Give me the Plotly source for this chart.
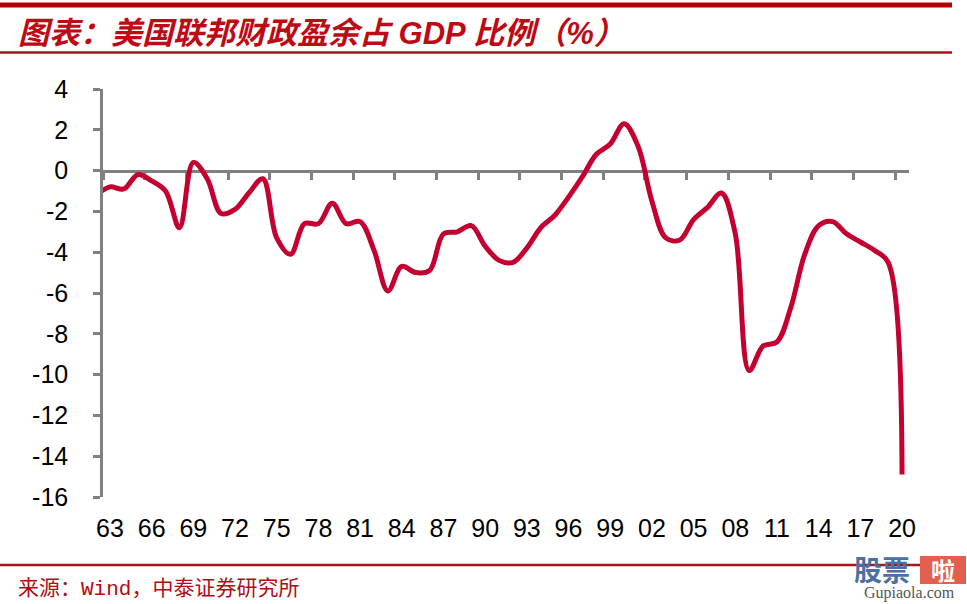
import plotly.graph_objects as go

# ---- data (US federal surplus/deficit as % of GDP) ----
years = list(range(1962, 2021))
values = [-1.2,
          -0.8, -0.9, -0.2, -0.5, -1.0, -2.8, 0.4, -0.4, -2.1, -1.9,
          -1.1, -0.4, -3.3, -4.1, -2.6, -2.6, -1.6, -2.6, -2.5, -3.9,
          -5.9, -4.7, -5.0, -4.9, -3.1, -3.0, -2.7, -3.7, -4.4, -4.5,
          -3.8, -2.8, -2.2, -1.3, -0.3, 0.8, 1.3, 2.3, 1.2, -1.5,
          -3.3, -3.4, -2.4, -1.8, -1.1, -3.1, -9.8, -8.6, -8.4, -6.7,
          -4.1, -2.7, -2.5, -3.1, -3.5, -3.9, -4.5, -14.9]
label_years = list(range(1963, 2021, 3))
label_text = [str(y)[-2:] for y in label_years]
y_ticks = [4, 2, 0, -2, -4, -6, -8, -10, -12, -14, -16]
y_text = [str(v) for v in y_ticks]

title_text = "图表：美国联邦财政盈余占 GDP 比例（%）"
source_text = "来源：Wind，中泰证券研究所"

W, H = 967, 604
L, R, T, B = 103, 58, 89, 107
PW, PH = W - L - R, H - T - B


def px(xp):
    return (xp - L) / PW


def py(yp):
    return (H - B - yp) / PH


GRAY = "#808080"
RED_LINE = "#C3002F"
DARK_RED = "#B40A12"

fig = go.Figure()
fig.add_trace(go.Scatter(
    x=years, y=values, mode="lines",
    line=dict(color=RED_LINE, width=5, shape="spline", smoothing=1.0),
    hoverinfo="skip", showlegend=False))
fig.add_trace(go.Scatter(
    x=years, y=values, mode="lines", xaxis="x2",
    line=dict(color="rgba(0,0,0,0)", width=0),
    hoverinfo="skip", showlegend=False))

tickfont = dict(family="Liberation Sans, Arial, sans-serif", size=25, color="#000000")

fig.update_layout(
    width=W, height=H,
    margin=dict(l=L, r=R, t=T, b=B, pad=0),
    paper_bgcolor="white", plot_bgcolor="white",
    showlegend=False,
    xaxis=dict(range=[1962.5, 2020.5], tickmode="array", tickvals=label_years,
               ticktext=label_text, showline=False, showgrid=False, zeroline=False,
               ticks="", tickfont=tickfont, ticklabelstandoff=14, fixedrange=True),
    xaxis2=dict(range=[1962.5, 2020.5], overlaying="x", anchor="free", position=0.8,
                tickmode="linear", tick0=1962.5, dtick=3, ticks="outside", ticklen=8,
                tickwidth=2.5, tickcolor=GRAY, showline=True, linecolor=GRAY,
                linewidth=2.5, showticklabels=False, showgrid=False, zeroline=False,
                layer="below traces"),
    yaxis=dict(range=[-16, 4], tickmode="array", tickvals=y_ticks, ticktext=y_text,
               ticks="outside", ticklen=7, tickwidth=2.5, tickcolor=GRAY,
               showline=True, linecolor=GRAY, linewidth=2.5, showgrid=False,
               zeroline=False, tickfont=tickfont, ticklabelstandoff=20),
)

shapes = [
    dict(type="rect", xref="paper", yref="paper", x0=px(0), x1=px(952),
         y0=py(7.5), y1=py(2.5), fillcolor="#B30000", line=dict(width=0)),
    dict(type="line", xref="paper", yref="paper", x0=px(0), x1=px(952),
         y0=py(52.5), y1=py(52.5), line=dict(color="#A8141C", width=2.5)),
    dict(type="line", xref="paper", yref="paper", x0=px(0), x1=px(952),
         y0=py(565), y1=py(565), line=dict(color="#A8141C", width=2.5)),
    # watermark badge
    dict(type="rect", xref="paper", yref="paper", x0=px(920), x1=px(966),
         y0=py(584), y1=py(556), fillcolor="#E2604D", line=dict(width=0)),
]
fig.update_layout(shapes=shapes)

ann = [
    dict(text="<b><i>" + title_text + "</i></b>", xref="paper", yref="paper",
         x=px(16), y=py(33), xanchor="left", yanchor="middle", showarrow=False,
         font=dict(family="Liberation Sans, Noto Sans CJK SC, sans-serif", size=31,
                   color="#BE0A14")),
    dict(text=source_text, xref="paper", yref="paper",
         x=px(16), y=py(589), xanchor="left", yanchor="middle", showarrow=False,
         font=dict(family="Liberation Mono, Noto Sans CJK SC, monospace", size=21,
                   color=DARK_RED)),
    dict(text="<b>股票</b>", xref="paper", yref="paper",
         x=px(852), y=py(569), xanchor="left", yanchor="middle", showarrow=False,
         font=dict(family="Noto Sans CJK SC", size=28, color="#4C6EA2")),
    dict(text="<b>啦</b>", xref="paper", yref="paper",
         x=px(943), y=py(569), xanchor="center", yanchor="middle", showarrow=False,
         font=dict(family="Noto Sans CJK SC", size=24, color="white")),
    dict(text="Gupiaola.com", xref="paper", yref="paper",
         x=px(909), y=py(593), xanchor="center", yanchor="middle", showarrow=False,
         font=dict(family="Liberation Serif, DejaVu Serif, serif", size=16, color="#555555")),
]
fig.update_layout(annotations=ann)

fig.write_html("out.html", config={"displayModeBar": False},
               post_script="document.body.style.margin='0';document.body.style.padding='0';")
